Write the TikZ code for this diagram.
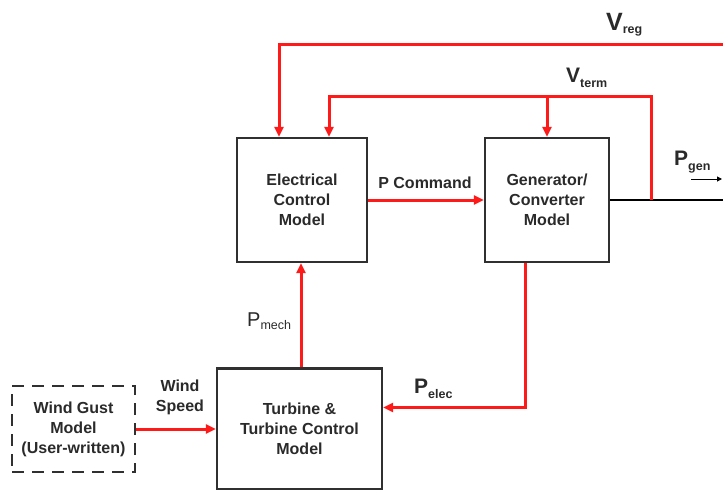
\documentclass[tikz,border=0pt]{standalone}
\usepackage{fontspec}
\setmainfont{Liberation Sans}
\usetikzlibrary{arrows.meta}
\definecolor{txt}{HTML}{2A2A2A}
\definecolor{bord}{HTML}{303030}
\definecolor{sig}{HTML}{FF1A1A}
% #1 main size, #2 letter, #3 subscript, #4 drop, #5 weight cmd
\newcommand\sgl[5]{{#5\fontsize{#1}{#1}\selectfont #2}\raisebox{-#4}{\fontsize{12.5}{12.5}\selectfont #5#3}}
\begin{document}
\begin{tikzpicture}[x=1pt,y=-1pt,
  font=\fontsize{16}{20}\selectfont\bfseries,
  every node/.style={text=txt},
  block/.style={draw=bord,line width=2.3pt,align=center,inner sep=0pt},
  gust/.style={draw=bord,line width=2.6pt,dash pattern=on 12pt off 8pt,align=center,inner sep=0pt},
  sigline/.style={draw=sig,line width=3pt},
  sigarrow/.style={sigline,-{Triangle[length=10pt,width=9pt]}},
  outline/.style={draw=black,line width=2.3pt},
  lbl/.style={inner sep=0pt},
  sub/.style={inner sep=0pt,anchor=base west,font=\normalfont}]
\useasboundingbox (0,0) rectangle (723,490);
\node[block,minimum width=130pt,minimum height=124pt] (ecm) at (302,200) {Electrical\\Control\\Model};
\node[block,minimum width=124pt,minimum height=124pt] (gen) at (547,200) {Generator/\\Converter\\Model};
\node[block,minimum width=165pt,minimum height=121pt] (turb) at (299.5,429) {Turbine \&\\Turbine Control\\Model};
\node[gust,minimum width=123pt,minimum height=86pt] (wg) at (73.5,429) {Wind Gust\\Model\\(User-written)};
% output line
\coordinate (out) at (723,200);
\coordinate (vtj) at (651,200);
\coordinate (vttop) at (651,96);
\coordinate (vrr) at (723,44);
\draw[outline] (gen.east) -- (out);
% Vreg
\draw[sigarrow] (vrr) -| ([xshift=-23pt]ecm.north);
% Vterm
\draw[sigarrow] (vtj) -- (vttop) -| ([xshift=27pt]ecm.north);
\draw[sigarrow] (gen.north |- vttop) -- (gen.north);
% P command
\draw[sigarrow] (ecm.east) -- (gen.west);
% Pmech
\draw[sigarrow] ([xshift=1.5pt]turb.north) -- ([xshift=1.5pt]turb.north |- ecm.south);
% wind speed
\draw[sigarrow] (wg.east) -- (turb.west);
% Pelec
\draw[sigarrow] ([xshift=-22pt]gen.south) |- ([yshift=21.5pt]turb.east);
% Pgen small arrow
\coordinate (pga) at (691,179);
\coordinate (pgb) at (722,179);
\draw[black,line width=1pt,-{Triangle[length=5pt,width=5pt]}] (pga) -- (pgb);
% labels
\node[sub] (lvreg) at (606,30) {\sgl{25}{V}{reg}{3pt}{\bfseries}};
\node[sub] (lvterm) at (566,82) {\sgl{21}{V}{term}{5pt}{\bfseries}};
\node[lbl] (lpcmd) at (425,183) {P Command};
\node[sub] (lpgen) at (674,165) {\sgl{21}{P}{gen}{5pt}{\bfseries}};
\node[sub] (lpmech) at (247,326) {\sgl{20}{P}{mech}{3pt}{\mdseries}};
\node[lbl,align=center] (lws) at (180,397) {Wind\\Speed};
\node[sub] (lpelec) at (414,393) {\sgl{21}{P}{elec}{5pt}{\bfseries}};
\end{tikzpicture}
\end{document}
